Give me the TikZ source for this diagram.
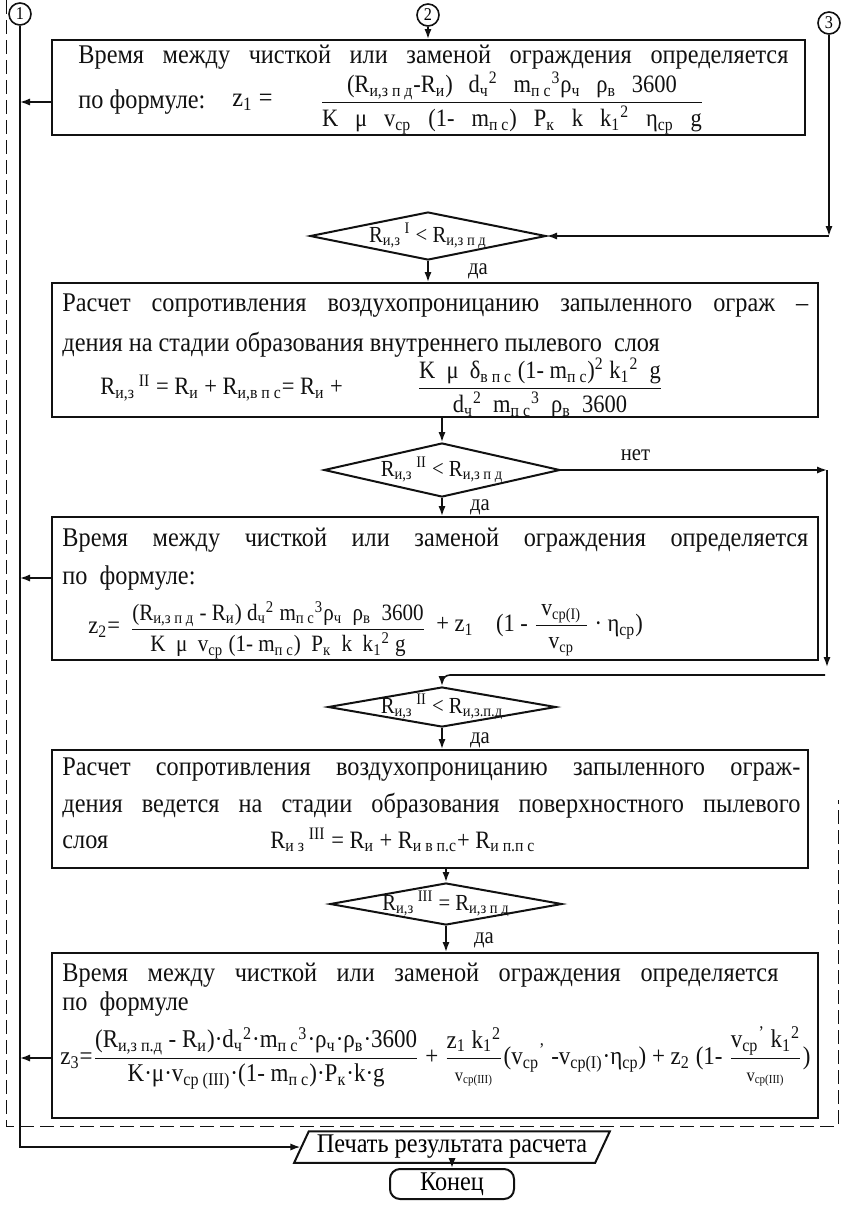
\documentclass[tikz,border=0pt]{standalone}
\usepackage{fontspec}
\setmainfont{Liberation Serif}[FakeStretch=0.9]
\usepackage{amsmath}
\usepackage{graphicx}
\usetikzlibrary{arrows.meta,positioning,fit,shapes.geometric}
\definecolor{ink}{HTML}{111111}
\newcommand{\dn}[1]{\textsubscript{#1}}
\newcommand{\upx}[1]{\textsuperscript{#1}}
\newcommand{\frc}[2]{$\dfrac{\text{#1}}{\text{#2}}$}
\tikzset{
  box/.style={draw=ink,line width=1pt,inner sep=0pt},
  dia/.style={diamond,draw=ink,line width=1pt,inner sep=0pt},
  io/.style={trapezium,trapezium left angle=65,trapezium right angle=115,draw=ink,line width=1pt,inner xsep=4pt,inner ysep=2pt,minimum height=15pt,font=\fontsize{13.5pt}{15pt}\selectfont},
  term/.style={draw=ink,line width=1pt,rounded corners=5pt,minimum width=62pt,minimum height=15pt,inner sep=0pt,font=\fontsize{13.5pt}{15pt}\selectfont},
  nd/.style={circle,draw=ink,line width=.8pt,minimum size=11pt,inner sep=0pt,font=\fontsize{9pt}{10pt}\selectfont},
  plain/.style={inner sep=0pt,text=ink,font=\fontsize{13.5pt}{15pt}\selectfont},
  frm/.style={inner sep=0pt,text=ink,font=\fontsize{12.5pt}{14pt}\selectfont},
  small/.style={inner sep=0pt,text=ink,font=\fontsize{11.5pt}{13pt}\selectfont},
  ar/.style={-{Latex[length=5pt,width=3.6pt]},draw=ink,line width=.8pt},
  frame/.style={draw=ink,line width=.5pt,dash pattern=on 7pt off 3pt},
}
\begin{document}
\begin{tikzpicture}[x=0.5pt,y=-0.5pt]
  \useasboundingbox (0,0) rectangle (842,1207);
  % ── dashed frame ──
  \draw[frame] (6,0) -- (6,1126) -- (838,1126) -- (838,800);

  % ── connectors ──
  \node[nd] (c1) at (20,14) {1};
  \node[nd] (c2) at (428,15) {2};
  \node[nd] (c3) at (829,23) {3};

  % ── time, first stage ──
  \node[box,fit={(52,40) (805,135)}] (b1) {};
  \node[plain,anchor=west] (b1a) at (78,57) {\makebox[355pt][s]{Время  между  чисткой или заменой ограждения  определяется}};
  \node[plain,anchor=west] (b1b) at (78,102) {по формуле:};
  \node[plain,anchor=west] (b1c) at (232,102) {z\dn{1} =};
  \node[frm] (b1f) at (512,103) {\frc{\makebox[165pt][s]{(R\dn{и,з п д}-R\dn{и}) d\dn{ч}\upx{2} m\dn{п с}\upx{3}ρ\dn{ч} ρ\dn{в} 3600}}{\makebox[190pt][s]{K μ v\dn{ср} (1- m\dn{п с}) P\dn{к} k k\dn{1}\upx{2} η\dn{ср} g}}};

  \node[dia,minimum width=118pt,minimum height=24pt] (d1) at (428,236) {};
  \node[small] (d1t) at (d1) {R\dn{и,з}\upx{ I} < R\dn{и,з п д}};
  \node[small] (y1) at (478,271) {да};

  % ── inner dust layer ──
  \node[box,fit={(52,283) (818,417)}] (b2) {};
  \node[plain,anchor=west] (b2a) at (62,306) {\makebox[373pt][s]{Расчет сопротивления воздухопроницанию запыленного  ограж –}};
  \node[plain,anchor=west] (b2b) at (62,345) {дения на стадии образования внутреннего пылевого \ слоя};
  \node[frm,anchor=west] (b2c) at (100,388) {R\dn{и,з}\upx{ II} = R\dn{и} + R\dn{и,в п с}= R\dn{и} +};
  \node[frm] (b2f) at (540,388) {\frc{K \ μ \ δ\dn{в п с} (1- m\dn{п с})\upx{2} k\dn{1}\upx{2} \ g}{d\dn{ч}\upx{2} \ m\dn{п с}\upx{3} \ ρ\dn{в} \ 3600}};

  \node[dia,minimum width=118pt,minimum height=27pt] (d2) at (442,470) {};
  \node[small] (d2t) at (d2) {R\dn{и,з}\upx{ II} < R\dn{и,з п д}};
  \node[small] (y2) at (480,507) {да};

  % ── time, second stage ──
  \node[box,fit={(52,517) (818,660)}] (b3) {};
  \node[plain,anchor=west] (b3a) at (62,540) {\makebox[373pt][s]{Время  между  чисткой  или заменой  ограждения  определяется}};
  \node[plain,anchor=west] (b3b) at (62,578) {по \ формуле:};
  \node[frm,anchor=west] (b3c) at (88,630) {z\dn{2}=};
  \node[frm] (b3f) at (278,630) {\resizebox{148pt}{!}{\frc{(R\dn{и,з п д} - R\dn{и}) d\dn{ч}\upx{2} m\dn{п с}\upx{3}ρ\dn{ч} \ ρ\dn{в} \ 3600}{K \ μ \ v\dn{ср} (1- m\dn{п с}) \ P\dn{к} \ k \ k\dn{1}\upx{2} g}}};
  \node[frm,anchor=west] (b3g) at (436,630) {+ z\dn{1} \ \ \ (1 - {\fontsize{12pt}{13pt}\selectfont\frc{\ v\dn{ср(I)}\ }{v\dn{ср}}} · η\dn{ср})};

  \node[dia,minimum width=114pt,minimum height=20pt] (d3) at (442,707) {};
  \node[small] (d3t) at (d3) {R\dn{и,з}\upx{ II} < R\dn{и,з.п.д}};
  \node[small] (y3) at (480,740) {да};

  % ── surface dust layer ──
  \node[box,fit={(52,750) (808,868)}] (b4) {};
  \node[plain,anchor=west] (b4a) at (62,770) {\makebox[369pt][s]{Расчет сопротивления воздухопроницанию запыленного ограж-}};
  \node[plain,anchor=west] (b4b) at (62,806) {\makebox[369pt][s]{дения ведется на стадии образования поверхностного пылевого}};
  \node[plain,anchor=west] (b4c) at (62,842) {слоя};
  \node[frm,anchor=west] (b4d) at (270,840) {R\dn{и з}\upx{ III} = R\dn{и} + R\dn{и в п.с}+ R\dn{и п.п с}};

  \node[dia,minimum width=116pt,minimum height=21pt] (d4) at (446,904) {};
  \node[small] (d4t) at (d4) {R\dn{и,з}\upx{ III} = R\dn{и,з п д}};
  \node[small] (y4) at (484,940) {да};

  % ── time, third stage ──
  \node[box,fit={(52,953) (818,1118)}] (b5) {};
  \node[plain,anchor=west] (b5a) at (62,975) {\makebox[358pt][s]{Время  между чисткой или заменой  ограждения  определяется}};
  \node[plain,anchor=west] (b5b) at (62,1004) {по \ формуле};
  \node[frm,anchor=west] (b5f) at (60,1058) {\resizebox{375pt}{!}{z\dn{3}=\frc{(R\dn{и,з п.д} - R\dn{и})·d\dn{ч}\upx{2}·m\dn{п с}\upx{3}·ρ\dn{ч}·ρ\dn{в}·3600}{K·μ·v\dn{ср (III)}·(1- m\dn{п с})·P\dn{к}·k·g} + \frc{z\dn{1} k\dn{1}\upx{2}}{\small v\dn{ср(III)}}(v\dn{ср}\upx{'} -v\dn{ср(I)}·η\dn{ср}) + z\dn{2} (1- \frc{v\dn{ср}\upx{'} k\dn{1}\upx{2}}{\small v\dn{ср(III)}})}};

  % ── output and end ──
  \node[io] (pr) at (452,1147) {Печать результата расчета};
  \node[term] (en) at (452,1184) {Конец};

  % ── flow ──
  \coordinate (k1) at (c1 |- b1b);
  \coordinate (k2) at (c1 |- b3b);
  \coordinate (k3) at (c1 |- b5f);
  \coordinate (k4) at (c3 |- d1);
  \coordinate (k5) at (827,470);
  \coordinate (k6) at (827,667);
  \coordinate (k7) at (825,675);
  \draw[ar] (c1.south) |- (pr.west);
  \draw[ar] (c2) -- (c2 |- b1.north);
  \draw[ar] (b1.west |- k1) -- (k1);
  \draw[ar] (c3) -- (k4);
  \draw[ar] (k4) -- (d1.east);
  \draw[ar] (d1.south) -- (d1.south |- b2.north);
  \draw[ar] (b2.south -| d2) -- (d2.north);
  \draw[ar] (d2.east) -- (k5) node[small,above=4pt,pos=.28] (n2) {нет};
  \draw[ar] (k5) -- (k6);
  \draw[ar] (d2.south) -- (d2.south |- b3.north);
  \draw[ar] (b3.west |- k2) -- (k2);
  \draw[ar,rounded corners=4pt] (k7) -- (k7 -| d3) -- (d3.north);
  \draw[ar] (d3.south) -- (d3.south |- b4.north);
  \draw[ar] (b4.south -| d4) -- (d4.north);
  \draw[ar] (d4.south) -- (d4.south |- b5.north);
  \draw[ar] (b5.west |- k3) -- (k3);
  \draw[ar] (pr.south) -- (en.north);
\end{tikzpicture}
\end{document}
